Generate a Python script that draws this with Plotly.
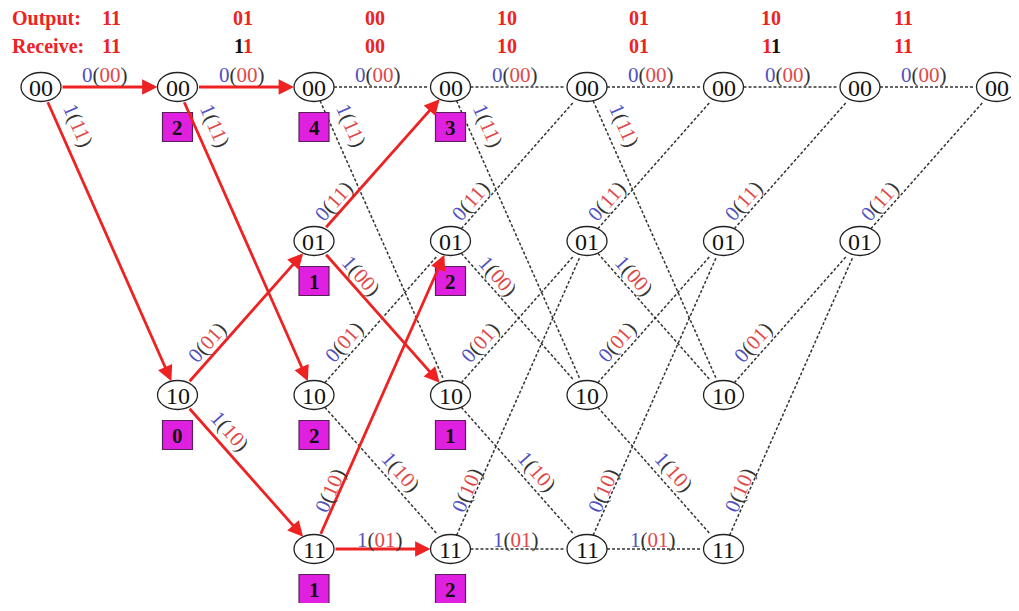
import math
import plotly.graph_objects as go

# ---------------- data ----------------
STATES = ["00", "01", "10", "11"]
N_TIMES = 8
OUTPUTS = ["11", "01", "00", "10", "01", "10", "11"]
RECEIVED = ["11", "11", "00", "10", "01", "11", "11"]

# state -> {input: (output code, next state)}
TRANS = {
    "00": {"0": ("00", "00"), "1": ("11", "10")},
    "01": {"0": ("11", "00"), "1": ("00", "10")},
    "10": {"0": ("01", "01"), "1": ("10", "11")},
    "11": {"0": ("10", "01"), "1": ("01", "11")},
}
# states present at each time step
NODES_AT = [["00"], ["00", "10"], STATES, STATES, STATES, STATES, ["00", "01"], ["00"]]
# allowed inputs per stage (tail bits forced to 0)
INPUTS_AT = [["0", "1"]] * 5 + [["0"], ["0"]]
# survivor (red) branches: (stage, from, to)
SURVIVOR = [
    (0, "00", "00"), (0, "00", "10"),
    (1, "00", "00"), (1, "00", "10"), (1, "10", "01"), (1, "10", "11"),
    (2, "01", "00"), (2, "01", "10"), (2, "11", "01"), (2, "11", "11"),
]
# path metrics: (time, state, value)
METRICS = [
    (1, "00", 2), (1, "10", 0),
    (2, "00", 4), (2, "01", 1), (2, "10", 2), (2, "11", 1),
    (3, "00", 3), (3, "01", 2), (3, "10", 1), (3, "11", 2),
]

# ---------------- styles / layout ----------------
RED = "#EE2222"
BLUE = "#5050C0"
LRED = "#E04848"
DARK = "#333333"
MAGENTA = "#E020E0"
FONT = "Liberation Serif"

# page body has an 8px margin: figure is sized/offset so data units = screen pixels
OFF = 8
W, H = 1019 - 2 * OFF, 611 - 2 * OFF

X0, DX = 41, 136.5
Y0, DY = 87, 154
RX, RY = 20, 14.5

# label placement (fraction along branch, offset to the left of travel)
LABEL_POS = {
    ("00", "0"): (0.47, 12), ("00", "1"): (0.15, 19),
    ("01", "0"): (0.21, 12), ("01", "1"): (0.28, 12),
    ("10", "0"): (0.29, 13), ("10", "1"): (0.56, 14),
    ("11", "0"): (0.18, 9), ("11", "1"): (0.48, 9),
}
LABEL_OVERRIDE = {(1, "10", "1"): (0.30, 15)}


def pos(t, s):
    return X0 + DX * t, Y0 + DY * STATES.index(s)


def trim(p, q):
    dx, dy = q[0] - p[0], q[1] - p[1]
    L = math.hypot(dx, dy)
    ux, uy = dx / L, dy / L
    r = 1 / math.sqrt((ux / RX) ** 2 + (uy / RY) ** 2)
    return (p[0] + ux * r, p[1] + uy * r), (q[0] - ux * r, q[1] - uy * r), ux, uy


def label_html(inp, out):
    return (f"<span style='color:{BLUE}'>{inp}</span>"
            f"<span style='color:{DARK}'>(</span>"
            f"<span style='color:{LRED}'>{out}</span>"
            f"<span style='color:{DARK}'>)</span>")


fig = go.Figure()
annotations = []
shapes = []

dot_x, dot_y = [], []
for stage in range(N_TIMES - 1):
    for s in NODES_AT[stage]:
        for inp in INPUTS_AT[stage]:
            out, nxt = TRANS[s][inp]
            p, q = pos(stage, s), pos(stage + 1, nxt)
            a, b, ux, uy = trim(p, q)
            red = (stage, s, nxt) in SURVIVOR
            if red:
                annotations.append(dict(
                    x=b[0], y=b[1], ax=a[0], ay=a[1], xref="x", yref="y",
                    axref="x", ayref="y", text="", showarrow=True,
                    arrowhead=2, arrowsize=1.1, arrowwidth=2.8, arrowcolor=RED,
                    standoff=0, startstandoff=0))
            else:
                dot_x += [a[0], b[0] - ux * 3, None]
                dot_y += [a[1], b[1] - uy * 3, None]
                annotations.append(dict(
                    x=b[0], y=b[1], ax=b[0] - ux * 2, ay=b[1] - uy * 2,
                    xref="x", yref="y", axref="x", ayref="y", text="",
                    showarrow=True, arrowhead=2, arrowsize=2.2, arrowwidth=1.3,
                    arrowcolor="#111111", standoff=0))
            f, d = LABEL_OVERRIDE.get((stage, s, inp), LABEL_POS[(s, inp)])
            cx = p[0] + f * (q[0] - p[0]) + d * uy
            cy = p[1] + f * (q[1] - p[1]) - d * ux
            ang = math.degrees(math.atan2(q[1] - p[1], q[0] - p[0]))
            annotations.append(dict(
                x=cx, y=cy, xref="x", yref="y", text=label_html(inp, out),
                showarrow=False, textangle=ang, xanchor="center", yanchor="middle",
                font=dict(family=FONT, size=21, color=DARK)))

fig.add_trace(go.Scatter(
    x=dot_x, y=dot_y, mode="lines", hoverinfo="skip", showlegend=False,
    line=dict(color="#333333", width=1.5, dash="3px,2px")))

# nodes
for t in range(N_TIMES):
    for s in NODES_AT[t]:
        x, y = pos(t, s)
        shapes.append(dict(type="circle", xref="x", yref="y", x0=x - RX, x1=x + RX,
                           y0=y - RY, y1=y + RY, line=dict(color="#222222", width=1.3),
                           fillcolor="white", layer="above"))
        annotations.append(dict(x=x, y=y + 1, xref="x", yref="y", text=s, showarrow=False,
                                font=dict(family=FONT, size=24, color="#111111")))

# path metric boxes
for t, s, v in METRICS:
    x, y = pos(t, s)
    by = y + 40
    shapes.append(dict(type="rect", xref="x", yref="y", x0=x - 15, x1=x + 15,
                       y0=by - 14.5, y1=by + 14.5, line=dict(color="#552255", width=1.2),
                       fillcolor=MAGENTA, layer="above"))
    annotations.append(dict(x=x, y=by + 1, xref="x", yref="y", text=f"<b>{v}</b>",
                            showarrow=False, font=dict(family=FONT, size=21, color="#111111")))

# Output / Receive rows
annotations.append(dict(x=10, y=18, xref="x", yref="y", text="<b>Output:</b>", showarrow=False,
                        xanchor="left", font=dict(family=FONT, size=20, color=RED)))
annotations.append(dict(x=10, y=46, xref="x", yref="y", text="<b>Receive:</b>", showarrow=False,
                        xanchor="left", font=dict(family=FONT, size=20, color=RED)))
for k, (o, r) in enumerate(zip(OUTPUTS, RECEIVED)):
    x = 111 + 132 * k
    annotations.append(dict(x=x, y=18, xref="x", yref="y", text=f"<b>{o}</b>", showarrow=False,
                            font=dict(family=FONT, size=20, color=RED)))
    parts = "".join(
        f"<span style='color:{RED if rb == ob else '#111111'}'>{rb}</span>" for rb, ob in zip(r, o))
    annotations.append(dict(x=x, y=46, xref="x", yref="y", text=f"<b>{parts}</b>", showarrow=False,
                            font=dict(family=FONT, size=20, color=RED)))

fig.update_layout(
    width=W, height=H, margin=dict(l=0, r=0, t=0, b=0),
    paper_bgcolor="white", plot_bgcolor="white", showlegend=False,
    xaxis=dict(range=[OFF, OFF + W], visible=False, fixedrange=True),
    yaxis=dict(range=[OFF + H, OFF], visible=False, fixedrange=True),
    shapes=shapes, annotations=annotations,
)
fig.write_html("out.html")
